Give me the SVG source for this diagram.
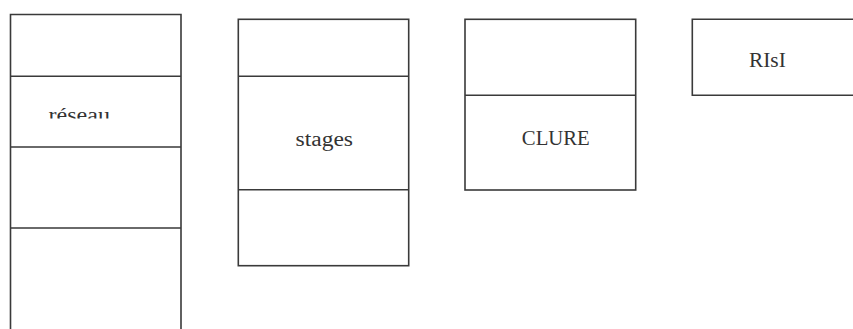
<svg xmlns="http://www.w3.org/2000/svg" width="853" height="329" viewBox="0 0 853 329">
<style>
.b{fill:none;stroke:#3a3a3a;stroke-width:1.6}
.t{font-family:"Liberation Serif","Times New Roman",serif;font-size:20px;fill:#333}
</style>
<defs>
<clipPath id="c1"><rect x="11" y="77" width="169" height="41.5"/></clipPath>
</defs>
<rect width="853" height="329" fill="#fff"/>
<g id="node-reseau">
<path class="b" d="M10.5,329 V14.5 H181 V329 M10.5,76.3 H181 M10.5,147 H181 M10.5,228 H181"/>
<text class="t" x="48.5" y="122" textLength="61.5" lengthAdjust="spacingAndGlyphs" clip-path="url(#c1)">réseau</text>
</g>
<g id="node-stages">
<rect class="b" x="238.3" y="19.3" width="170.4" height="246.4"/>
<path class="b" d="M238.3,76.3 H408.7 M238.3,189.7 H408.7"/>
<text class="t" x="295.5" y="145.5" textLength="57.5" lengthAdjust="spacingAndGlyphs">stages</text>
</g>
<g id="node-clure">
<rect class="b" x="465" y="19.3" width="170.7" height="170.7"/>
<path class="b" d="M465,95.3 H635.7"/>
<text class="t" x="521.8" y="144.8" textLength="68" lengthAdjust="spacingAndGlyphs">CLURE</text>
</g>
<g id="node-risi">
<path class="b" d="M860,19.3 H692.3 V95.3 H860"/>
<text class="t" x="749" y="66.7" textLength="36.8" lengthAdjust="spacingAndGlyphs">RIsI</text>
</g>
<g id="connectors"></g>
</svg>
